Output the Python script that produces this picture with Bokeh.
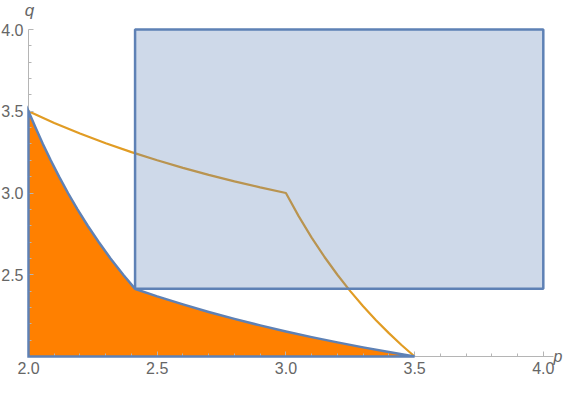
from bokeh.plotting import figure
from bokeh.models import Range1d, FixedTicker, PrintfTickFormatter, Label
from bokeh.embed import file_html
from bokeh.resources import INLINE

# --- data ---
x_ticks = [2.0, 2.5, 3.0, 3.5, 4.0]
y_ticks = [2.5, 3.0, 3.5, 4.0]
minor = [2.1, 2.2, 2.3, 2.4, 2.6, 2.7, 2.8, 2.9, 3.1, 3.2, 3.3, 3.4, 3.6, 3.7, 3.8, 3.9]
x_axis_extent = (2.0, 4.04)
y_axis_extent = (2.0, 4.0)

# gold curve
gold_p = [2.0, 2.1, 2.2, 2.3, 2.4, 2.5, 2.6, 2.7, 2.8, 2.9, 3.0,
          3.05, 3.1, 3.15, 3.2, 3.25, 3.3, 3.35, 3.4, 3.45, 3.5]
gold_q = [3.5, 3.4286, 3.3636, 3.3043, 3.25, 3.2, 3.1538, 3.1111, 3.0714, 3.0345, 3.0,
          2.8571, 2.7273, 2.6087, 2.5, 2.4, 2.3077, 2.2222, 2.1429, 2.069, 2.0]

# lower boundary branch of the orange region (upper branch is its mirror)
branch_p = [2.414, 2.5, 2.6, 2.7, 2.8, 2.9, 3.0, 3.1, 3.2, 3.3, 3.4, 3.5]
branch_q = [2.414, 2.368, 2.3185, 2.2726, 2.23, 2.1903, 2.1533, 2.1187, 2.0863, 2.0558, 2.0271, 2.0]
corner = [2.0, 2.0]

# rectangle region
rect_p = [2.414, 4.0]
rect_q = [2.414, 4.0]

BLUE = "#5E81B5"
GOLD = "#E19C24"
ORANGE = "#FF8000"
AX = "#B5B5B5"
TXT = "#666666"

p = figure(width=565, height=377, output_backend="svg", toolbar_location=None,
           x_range=Range1d(1.8912, 4.0862), y_range=Range1d(1.8716, 4.1774),
           min_border=0)
p.grid.visible = False
p.outline_line_color = None
p.background_fill_color = "white"

# orange region polygon
reg_x = [corner[0]] + branch_q[::-1] + branch_p[1:] + [corner[0]]
reg_y = [corner[1]] + branch_p[::-1] + branch_q[1:] + [corner[1]]
p.patch(reg_x, reg_y, fill_color=ORANGE, fill_alpha=1.0, line_color=None)

# gold line
p.line(gold_p, gold_q, line_color=GOLD, line_width=2.2)

# rectangle
p.quad(left=[rect_p[0]], right=[rect_p[1]], bottom=[rect_q[0]], top=[rect_q[1]],
       fill_color=BLUE, fill_alpha=0.3, line_color=BLUE, line_width=2.5)

for ax, ticks, ext in ((p.xaxis[0], x_ticks, x_axis_extent), (p.yaxis[0], y_ticks, y_axis_extent)):
    ax.fixed_location = 2.0
    ax.bounds = ext
    ax.ticker = FixedTicker(ticks=ticks, minor_ticks=minor)
    ax.formatter = PrintfTickFormatter(format="%.1f")
    ax.axis_line_color = AX
    ax.major_tick_line_color = AX
    ax.minor_tick_line_color = AX
    ax.major_tick_in = 5
    ax.major_tick_out = 0
    ax.minor_tick_in = 3
    ax.minor_tick_out = 0
    ax.major_label_text_color = TXT
    ax.major_label_text_font = "Liberation Sans"
    ax.major_label_text_font_size = "16px"
p.xaxis[0].major_label_standoff = 5
p.yaxis[0].major_label_standoff = 5

# outline of orange region, above the axes
p.patch(reg_x, reg_y, fill_color=None, line_color=BLUE, line_width=2.5, line_join="miter",
        level="overlay")

p.add_layout(Label(x=x_axis_extent[1], y=2.0, x_offset=0, text="p", text_align="left",
                   text_baseline="middle", text_font="Liberation Sans", text_font_style="italic",
                   text_font_size="16px", text_color=TXT))
p.add_layout(Label(x=2.004, y=4.118, text="q", text_align="center",
                   text_baseline="middle", text_font="Liberation Sans", text_font_style="italic",
                   text_font_size="17px", text_color=TXT))

open("out.html", "w").write(file_html(p, INLINE))
